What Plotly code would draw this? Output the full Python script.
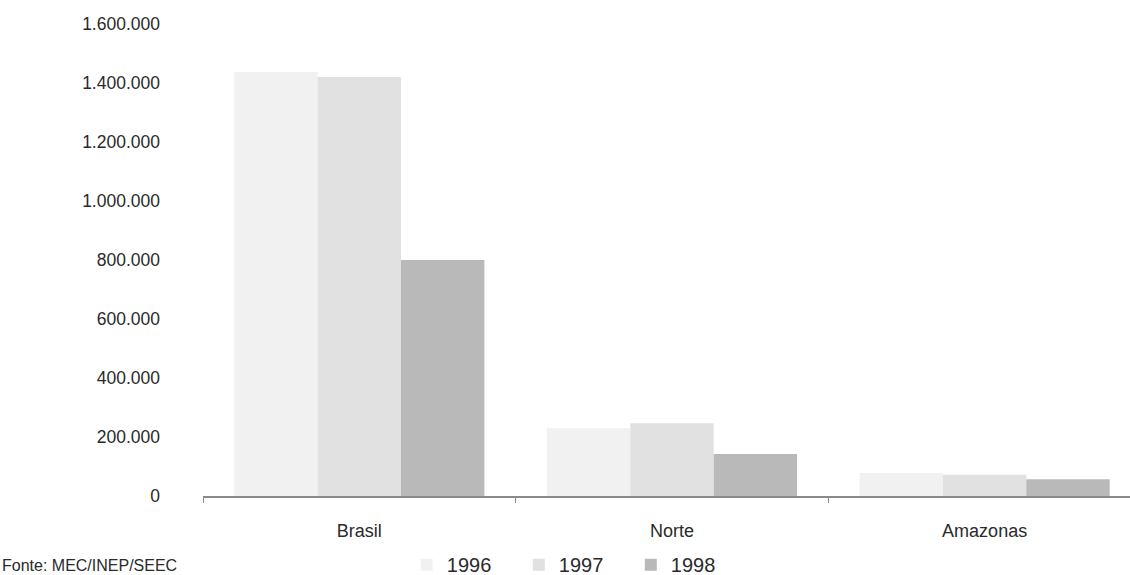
import plotly.graph_objects as go

categories = ["Brasil", "Norte", "Amazonas"]
years = ["1996", "1997", "1998"]
v1996 = [1437000, 230000, 78000]
v1997 = [1420000, 247000, 72000]
v1998 = [800000, 142000, 57000]
colors = ["#f1f1f1", "#e1e1e1", "#b9b9b9"]
y_ticks = [0, 200000, 400000, 600000, 800000, 1000000, 1200000, 1400000, 1600000]

fig = go.Figure()
for name, vals, col in zip(years, [v1996, v1997, v1998], colors):
    fig.add_trace(go.Bar(x=categories, y=vals, name=name, marker=dict(color=col, line=dict(width=0))))

fig.update_layout(
    width=1130, height=575,
    margin=dict(l=203, r=0, t=24, b=79),
    paper_bgcolor="white", plot_bgcolor="white",
    separators=",.",
    barmode="group", bargap=0.2, bargroupgap=0,
    font=dict(family="Liberation Sans, Arial, sans-serif", color="#2a2a2a", size=17),
    showlegend=True,
    legend=dict(orientation="h", xref="container", yref="container", x=0.36, y=0.018,
                xanchor="left", yanchor="middle", font=dict(size=20), itemwidth=30,
                entrywidth=67, entrywidthmode="pixels"),
    annotations=[dict(text="Fonte: MEC/INEP/SEEC", xref="paper", yref="paper",
                      x=-0.219, y=-0.148, xanchor="left", yanchor="middle",
                      showarrow=False, font=dict(size=16, color="#2a2a2a"))],
)
fig.update_xaxes(range=[-0.5, 2.465], showline=True, linecolor="#8a8a8a", linewidth=1.5,
                 ticks="outside", tickson="boundaries", ticklen=5, tickcolor="#8a8a8a",
                 showgrid=False, tickfont=dict(size=18), ticklabelstandoff=18)
fig.update_yaxes(range=[0, 1600000], tickvals=y_ticks, tickformat=",.0f", showgrid=False,
                 zeroline=False, showline=False, ticks="", ticklabelstandoff=42,
                 tickfont=dict(size=17.5))

fig.write_html("out.html", config={"displayModeBar": False},
               post_script="document.body.style.margin='0';document.body.style.overflow='hidden';")
